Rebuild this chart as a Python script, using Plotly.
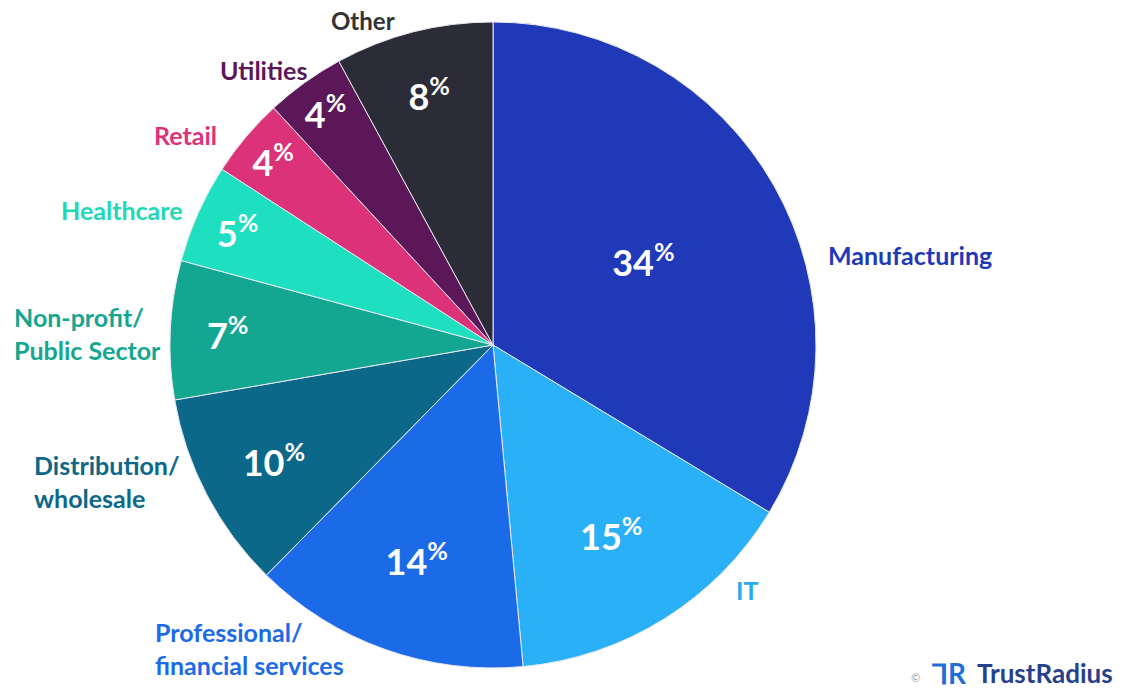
import plotly.graph_objects as go

categories = ["Manufacturing", "IT", "Professional/ financial services", "Distribution/ wholesale",
              "Non-profit/ Public Sector", "Healthcare", "Retail", "Utilities", "Other"]
values = [34, 15, 14, 10, 7, 5, 4, 4, 8]
colors = ["#1f39b8", "#2ab0f6", "#1b6ae8", "#0b6889", "#13a691", "#1ee0c0", "#dc3279", "#5b1758", "#2b2c38"]
label_colors = ["#1f39b8", "#2aa9ee", "#1b6ae8", "#0b6889", "#13a691", "#1ed8b8", "#dc3279", "#5b1758", "#333333"]

W, H = 1131, 695
OFF = 8  # page body margin offset
cx, cy, R = 493 - OFF, 345 - OFF, 323

texts = [f"<b>{v}</b><sup><b>%</b></sup>" for v in values]

fig = go.Figure(go.Pie(
    values=values,
    labels=categories,
    text=texts,
    textinfo="text",
    textposition="inside",
    insidetextorientation="horizontal",
    textfont=dict(family="Lato", size=36, color="white"),
    sort=False,
    direction="clockwise",
    rotation=0,
    marker=dict(colors=colors, line=dict(color="#e8e8f0", width=1)),
    showlegend=False,
    hoverinfo="label+percent",
    domain=dict(x=[(cx - R) / W, (cx + R) / W], y=[1 - (cy + R) / H, 1 - (cy - R) / H]),
))

# outside category labels (layout positions in pixels)
label_pos = [
    (826, 255, "left"),
    (747, 590, "center"),
    (153, 648, "left"),
    (32, 482, "left"),
    (12, 333, "left"),
    (122, 210, "center"),
    (185, 135, "center"),
    (263, 70, "center"),
    (363, 21, "center"),
]
annotations = []
for name, col, (x, y, al) in zip(categories, label_colors, label_pos):
    txt = name.replace("/ ", "/<br>")
    annotations.append(dict(
        x=(x - OFF) / W, y=1 - (y - OFF) / H, xref="paper", yref="paper",
        text=f"<b>{txt}</b>", showarrow=False, align=al,
        xanchor=al, yanchor="middle",
        font=dict(family="Lato", size=25 if name != "Other" else 24, color=col),
    ))

annotations.append(dict(x=(975 - OFF) / W, y=1 - (673 - OFF) / H, xref="paper", yref="paper",
                        text="<b>TrustRadius</b>", showarrow=False, xanchor="left", yanchor="middle",
                        font=dict(family="Lato", size=26, color="#27408b")))
annotations.append(dict(x=(949 - OFF) / W, y=1 - (673 - OFF) / H, xref="paper", yref="paper",
                        text="<b>ᒣR</b>", showarrow=False, xanchor="center", yanchor="middle",
                        font=dict(family="Lato", size=28, color="#1f6fd8")))
annotations.append(dict(x=(915 - OFF) / W, y=1 - (677 - OFF) / H, xref="paper", yref="paper",
                        text="©", showarrow=False, xanchor="center", yanchor="middle",
                        font=dict(family="Lato", size=11, color="#999999")))

fig.update_layout(
    width=W, height=H,
    margin=dict(l=0, r=0, t=0, b=0),
    paper_bgcolor="white",
    plot_bgcolor="white",
    annotations=annotations,
    font=dict(family="Lato"),
)

fig.write_html("out.html")
